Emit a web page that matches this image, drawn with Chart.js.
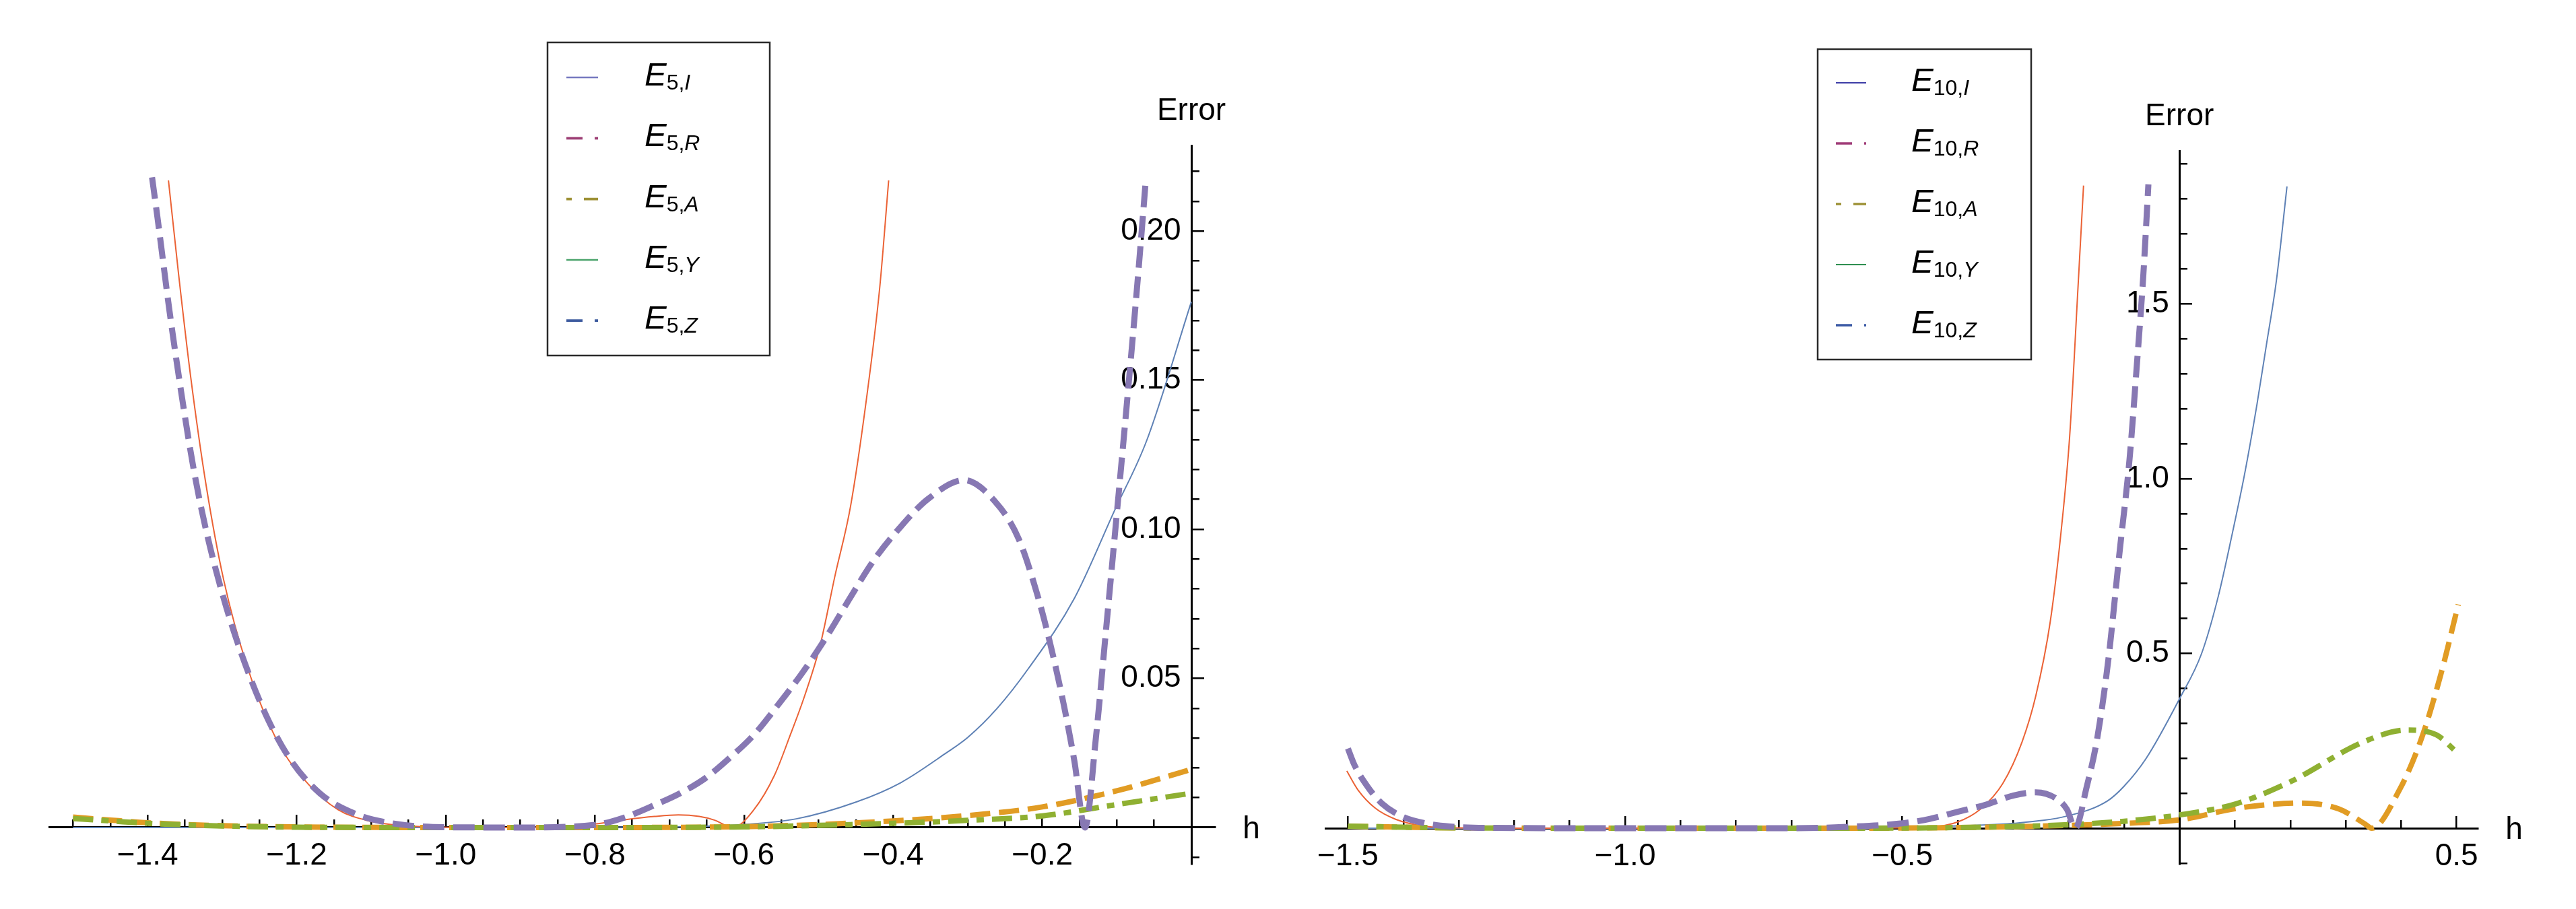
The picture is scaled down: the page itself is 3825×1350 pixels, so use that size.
<!DOCTYPE html>
<html><head><meta charset="utf-8">
<script src="https://cdn.jsdelivr.net/npm/chart.js@4/dist/chart.umd.min.js"></script>
<style>
html,body{margin:0;padding:0;background:#fff;width:3825px;height:1350px;overflow:hidden}
canvas{position:absolute;top:0}
#c5{left:0}
#c10{left:1900px}
</style></head><body>
<canvas id="c5" width="1900" height="1350"></canvas>
<canvas id="c10" width="1925" height="1350"></canvas>
<script>
// ---------------- DATA: left panel (n = 5) ----------------
const H5_I = [-1.5, -0.9, -0.7, -0.615, -0.53, -0.45, -0.39, -0.33, -0.30, -0.26, -0.218, -0.157, -0.103, -0.060, 0.0];
const E5_I = [0, 0, 0.0002, 0.0008, 0.0029, 0.0085, 0.0150, 0.0248, 0.0302, 0.0401, 0.0535, 0.0768, 0.1063, 0.1297, 0.1763];

const H5_R = [-1.372, -1.3585, -1.3424, -1.3221, -1.298, -1.2657, -1.2254, -1.185, -1.1447, -1.1046, -1.05, -0.95, -0.85, -0.80, -0.76, -0.72, -0.688, -0.66, -0.64, -0.615, -0.587, -0.559, -0.538, -0.5185, -0.498, -0.478, -0.457, -0.435, -0.418, -0.406];
const E5_R = [0.217, 0.1857, 0.1515, 0.1157, 0.0831, 0.0535, 0.0287, 0.0147, 0.0060, 0.0023, 0.0005, 0.0, 0.0003, 0.0012, 0.0026, 0.0037, 0.0042, 0.0037, 0.0025, 0.0, 0.0059, 0.0176, 0.031, 0.0443, 0.061, 0.0844, 0.1079, 0.1452, 0.181, 0.217];

const H5_A = [-1.5, -1.45, -1.4, -1.3, -1.2, -1.0, -0.8, -0.6, -0.5, -0.4, -0.3, -0.2, -0.1, 0.0];
const E5_A = [0.0035, 0.0025, 0.0016, 0.0006, 0.0002, 0.0, 0.0, 0.0003, 0.001, 0.0022, 0.004, 0.0069, 0.0123, 0.0195];

const H5_Y = [-1.5, -1.45, -1.4, -1.3, -1.2, -1.0, -0.8, -0.6, -0.5, -0.4, -0.3, -0.2, -0.1, 0.0];
const E5_Y = [0.003, 0.0022, 0.0014, 0.0005, 0.0001, 0.0, 0.0, 0.0002, 0.0007, 0.0014, 0.0024, 0.0039, 0.0077, 0.0115];

const H5_Z = [-1.394, -1.3866, -1.3706, -1.3545, -1.3383, -1.322, -1.298, -1.274, -1.2416, -1.2096, -1.169, -1.1206, -1.072, -1.0, -0.9, -0.8, -0.76, -0.72, -0.684, -0.651, -0.619, -0.587, -0.555, -0.522, -0.4905, -0.458, -0.4265, -0.389, -0.353, -0.305, -0.264, -0.232, -0.207, -0.189, -0.171, -0.157, -0.1427, -0.128, -0.114, -0.0996, -0.0854, -0.0713, -0.061];
const E5_Z = [0.218, 0.2043, 0.1732, 0.1453, 0.1203, 0.1002, 0.0769, 0.0582, 0.0379, 0.0232, 0.0115, 0.0045, 0.0014, 0.0001, 0.0, 0.0009, 0.0034, 0.0075, 0.0117, 0.0167, 0.0234, 0.031, 0.0409, 0.0518, 0.0635, 0.0769, 0.0894, 0.1011, 0.1102, 0.1165, 0.1095, 0.097, 0.0784, 0.0613, 0.041, 0.0224, 0.0, 0.0302, 0.0675, 0.1063, 0.1452, 0.1857, 0.2175];

const X5_RANGE = [-1.532, 0.0316];
const Y5_RANGE = [-0.0122, 0.2287];
const X5_MAJOR = [-1.4, -1.2, -1.0, -0.8, -0.6, -0.4, -0.2];
const X5_MINOR = [-1.5, -1.45, -1.35, -1.3, -1.25, -1.15, -1.1, -1.05, -0.95, -0.9, -0.85, -0.75, -0.7, -0.65, -0.55, -0.5, -0.45, -0.35, -0.3, -0.25, -0.15, -0.1, -0.05];
const Y5_MAJOR = [0.05, 0.10, 0.15, 0.20];
const Y5_MINOR = [-0.01, 0.01, 0.02, 0.03, 0.04, 0.06, 0.07, 0.08, 0.09, 0.11, 0.12, 0.13, 0.14, 0.16, 0.17, 0.18, 0.19, 0.21, 0.22];

// ---------------- DATA: right panel (n = 10) ----------------
const H10_I = [-1.5, -0.6, -0.45, -0.3, -0.2, -0.13, -0.1, -0.06, 0.0, 0.04, 0.07, 0.096, 0.118, 0.14, 0.157, 0.175, 0.194];
const E10_I = [0, 0.001, 0.005, 0.014, 0.036, 0.078, 0.12, 0.2, 0.37, 0.5, 0.663, 0.848, 1.017, 1.214, 1.384, 1.568, 1.836];

const H10_R = [-1.502, -1.482, -1.451, -1.414, -1.3645, -1.3, -1.2, -0.6, -0.5, -0.45, -0.40, -0.3595, -0.319, -0.284, -0.259, -0.233, -0.213, -0.198, -0.183, -0.173];
const E10_R = [0.1638, 0.1098, 0.0578, 0.0257, 0.0064, 0.001, 0.0, 0.0, 0.001, 0.003, 0.018, 0.054, 0.1272, 0.2466, 0.3796, 0.5915, 0.8566, 1.122, 1.547, 1.8385];

const H10_A = [-1.5, -1.4, -1.3, -1.0, -0.6, -0.4, -0.2, -0.1, 0.0, 0.1, 0.15, 0.219, 0.288, 0.334, 0.347, 0.397, 0.436, 0.471, 0.503];
const E10_A = [0.006, 0.003, 0.001, 0.0, 0.0, 0.002, 0.008, 0.014, 0.024, 0.056, 0.066, 0.072, 0.055, 0.013, 0.0, 0.11, 0.254, 0.437, 0.64];

const H10_Y = [-1.5, -1.4, -1.3, -1.0, -0.6, -0.4, -0.3, -0.2, -0.1, 0.0, 0.1, 0.2, 0.332, 0.41, 0.4625, 0.5];
const E10_Y = [0.006, 0.003, 0.001, 0.0, 0.0, 0.002, 0.005, 0.01, 0.02, 0.038, 0.069, 0.133, 0.247, 0.281, 0.268, 0.218];

const H10_Z = [-1.5, -1.488, -1.463, -1.439, -1.401, -1.358, -1.316, -1.25, -1.0, -0.7, -0.6, -0.5, -0.45, -0.40, -0.349, -0.299, -0.259, -0.224, -0.203, -0.188, -0.168, -0.148, -0.128, -0.108, -0.090, -0.077, -0.065, -0.056];
const E10_Z = [0.228, 0.18, 0.1156, 0.0713, 0.0328, 0.0135, 0.005, 0.001, 0.0, 0.0, 0.004, 0.014, 0.027, 0.047, 0.0674, 0.094, 0.1029, 0.0867, 0.054, 0.0, 0.1137, 0.26, 0.4855, 0.79, 1.056, 1.3218, 1.5865, 1.842];

const X10_RANGE = [-1.5407, 0.538];
const Y10_RANGE = [-0.102, 1.938];
const X10_MAJOR = [-1.5, -1.0, -0.5, 0.5];
const X10_MINOR = [-1.4, -1.3, -1.2, -1.1, -0.9, -0.8, -0.7, -0.6, -0.4, -0.3, -0.2, -0.1, 0.1, 0.2, 0.3, 0.4];
const Y10_MAJOR = [0.5, 1.0, 1.5];
const Y10_MINOR = [-0.1, 0.1, 0.2, 0.3, 0.4, 0.6, 0.7, 0.8, 0.9, 1.1, 1.2, 1.3, 1.4, 1.6, 1.7, 1.8, 1.9];

const SERIES_NAMES = ['I', 'R', 'A', 'Y', 'Z'];

// ---------------- STYLE ----------------
const FONT = '"Liberation Sans", Arial, Helvetica, sans-serif';
Chart.defaults.font.family = FONT;
const STY = {
  I: {color: '#5E81B5', width: 2, dash: [], order: 5},
  R: {color: '#EB6235', width: 2, dash: [], order: 4},
  A: {color: '#E19C24', width: 8, dash: [30, 13], order: 3},
  Y: {color: '#8FB032', width: 8, dash: [30, 12, 11, 12], order: 2},
  Z: {color: '#8778B3', width: 9, dash: [32, 13], order: 1}
};

function pts(hs, vs) { return hs.map((h, i) => ({x: h, y: vs[i]})); }
function fmt(v, d) { return v.toFixed(d).replace('-', '\u2212'); }

function makeDatasets(series) {
  return series.map(([name, hs, vs]) => ({
    label: name,
    data: pts(hs, vs),
    borderColor: STY[name].color,
    borderWidth: STY[name].width,
    borderDash: STY[name].dash,
    order: STY[name].order,
    showLine: true,
    pointRadius: 0,
    fill: false,
    cubicInterpolationMode: 'monotone',
    borderCapStyle: 'butt'
  }));
}

function makeScales(xr, yr, xMaj, xMin, yMaj, yMin, xd, yd) {
  const grid = (len) => ({drawOnChartArea: false, drawTicks: true, tickLength: len, color: '#000', lineWidth: 2.5});
  const tickFont = {family: FONT, size: 46};
  return {
    x: {type: 'linear', axis: 'x', position: {y: 0}, min: xr[0], max: xr[1],
        afterBuildTicks: s => { s.ticks = xMaj.map(v => ({value: v})); },
        ticks: {callback: v => fmt(v, xd), font: tickFont, color: '#000', padding: 35, autoSkip: false, maxRotation: 0, minRotation: 0},
        grid: grid(-20), border: {display: true, color: '#000', width: 3}},
    xm: {type: 'linear', axis: 'x', position: {y: 0}, min: xr[0], max: xr[1],
        afterBuildTicks: s => { s.ticks = xMin.map(v => ({value: v})); },
        ticks: {display: false}, grid: grid(-12), border: {display: false}},
    y: {type: 'linear', axis: 'y', position: {x: 0}, min: yr[0], max: yr[1],
        afterBuildTicks: s => { s.ticks = yMaj.map(v => ({value: v})); },
        // trailing three-per-em space keeps the label clear of the axis line
        ticks: {callback: v => fmt(v, yd) + '\u2004', font: tickFont, color: '#000', padding: 0, autoSkip: false, maxRotation: 0, minRotation: 0},
        grid: grid(-20), border: {display: true, color: '#000', width: 3}},
    ym: {type: 'linear', axis: 'y', position: {x: 0}, min: yr[0], max: yr[1],
        afterBuildTicks: s => { s.ticks = yMin.map(v => ({value: v})); },
        ticks: {display: false}, grid: grid(-12), border: {display: false}}
  };
}

// axis titles "Error" and "h"
const axisTitles = {
  id: 'axTitles',
  afterDraw(chart) {
    const ctx = chart.ctx, a = chart.chartArea;
    ctx.save();
    ctx.fillStyle = '#000';
    ctx.font = '46px ' + FONT;
    ctx.textAlign = 'center';
    ctx.textBaseline = 'alphabetic';
    ctx.fillText('Error', chart.scales.x.getPixelForValue(0), a.top - 38);
    ctx.fillText('h', a.right + 54, chart.scales.y.getPixelForValue(0) + 16);
    ctx.restore();
  }
};

// Mathematica-style framed legend with subscripted labels
const boxLegend = {
  id: 'boxLegend',
  afterDraw(chart, args, o) {
    const ctx = chart.ctx;
    ctx.save();
    ctx.strokeStyle = '#2a2a2a';
    ctx.lineWidth = 2.5;
    ctx.setLineDash([]);
    ctx.strokeRect(o.x, o.y, o.w, o.h);
    o.rows.forEach((r, i) => {
      const ly = o.y + o.first + i * o.step;
      ctx.strokeStyle = r.color;
      ctx.lineWidth = r.width;
      ctx.setLineDash(r.dash);
      ctx.beginPath();
      ctx.moveTo(o.x + o.sx0, ly);
      ctx.lineTo(o.x + o.sx1, ly);
      ctx.stroke();
      ctx.setLineDash([]);
      let tx = o.x + o.tx;
      const base = ly + 12;
      ctx.fillStyle = '#000';
      ctx.textAlign = 'left';
      ctx.textBaseline = 'alphabetic';
      ctx.font = 'italic 49px ' + FONT;
      ctx.fillText('E', tx, base);
      tx += ctx.measureText('E').width;
      ctx.font = '32px ' + FONT;
      ctx.fillText(o.n + ',', tx, base + 6);
      tx += ctx.measureText(o.n + ',').width;
      ctx.font = 'italic 32px ' + FONT;
      ctx.fillText(SERIES_NAMES[i], tx, base + 6);
    });
    ctx.restore();
  }
};

const DASHDOT = [24, 18, 5, 60];
const SHORTLONG = [8, 18, 21, 60];

function makeChart(id, series, scales, pad, legend) {
  return new Chart(document.getElementById(id), {
    type: 'scatter',
    data: {datasets: makeDatasets(series)},
    options: {
      responsive: false, animation: false, devicePixelRatio: 1,
      layout: {padding: pad},
      scales: scales,
      plugins: {legend: {display: false}, tooltip: {enabled: false}, boxLegend: legend},
      elements: {line: {tension: 0}}
    },
    plugins: [axisTitles, boxLegend]
  });
}

makeChart('c5',
  [['I', H5_I, E5_I], ['R', H5_R, E5_R], ['A', H5_A, E5_A], ['Y', H5_Y, E5_Y], ['Z', H5_Z, E5_Z]],
  makeScales(X5_RANGE, Y5_RANGE, X5_MAJOR, X5_MINOR, Y5_MAJOR, Y5_MINOR, 1, 2),
  {left: 73, right: 96, top: 216, bottom: 67},
  {x: 813, y: 63, w: 330, h: 465, first: 52, step: 90.3, sx0: 28, sx1: 75, tx: 144, n: '5',
   rows: [
     {color: '#7679c0', width: 2.5, dash: []},
     {color: '#9c3d74', width: 3.7, dash: DASHDOT},
     {color: '#9d9136', width: 3.7, dash: SHORTLONG},
     {color: '#4aa36b', width: 2.5, dash: []},
     {color: '#3e5c9f', width: 3.7, dash: DASHDOT}
   ]});

makeChart('c10',
  [['I', H10_I, E10_I], ['R', H10_R, E10_R], ['A', H10_A, E10_A], ['Y', H10_Y, E10_Y], ['Z', H10_Z, E10_Z]],
  makeScales(X10_RANGE, Y10_RANGE, X10_MAJOR, X10_MINOR, Y10_MAJOR, Y10_MINOR, 1, 1),
  {left: 68, right: 146, top: 224, bottom: 67},
  {x: 799, y: 73, w: 317, h: 461, first: 50, step: 90, sx0: 27, sx1: 72, tx: 139, n: '10',
   rows: [
     {color: '#3c3ca6', width: 2.2, dash: []},
     {color: '#a03c78', width: 3.5, dash: DASHDOT},
     {color: '#9d9136', width: 3.5, dash: SHORTLONG},
     {color: '#2f8f50', width: 2.2, dash: []},
     {color: '#3b5aa5', width: 3.5, dash: DASHDOT}
   ]});
</script>
</body></html>
